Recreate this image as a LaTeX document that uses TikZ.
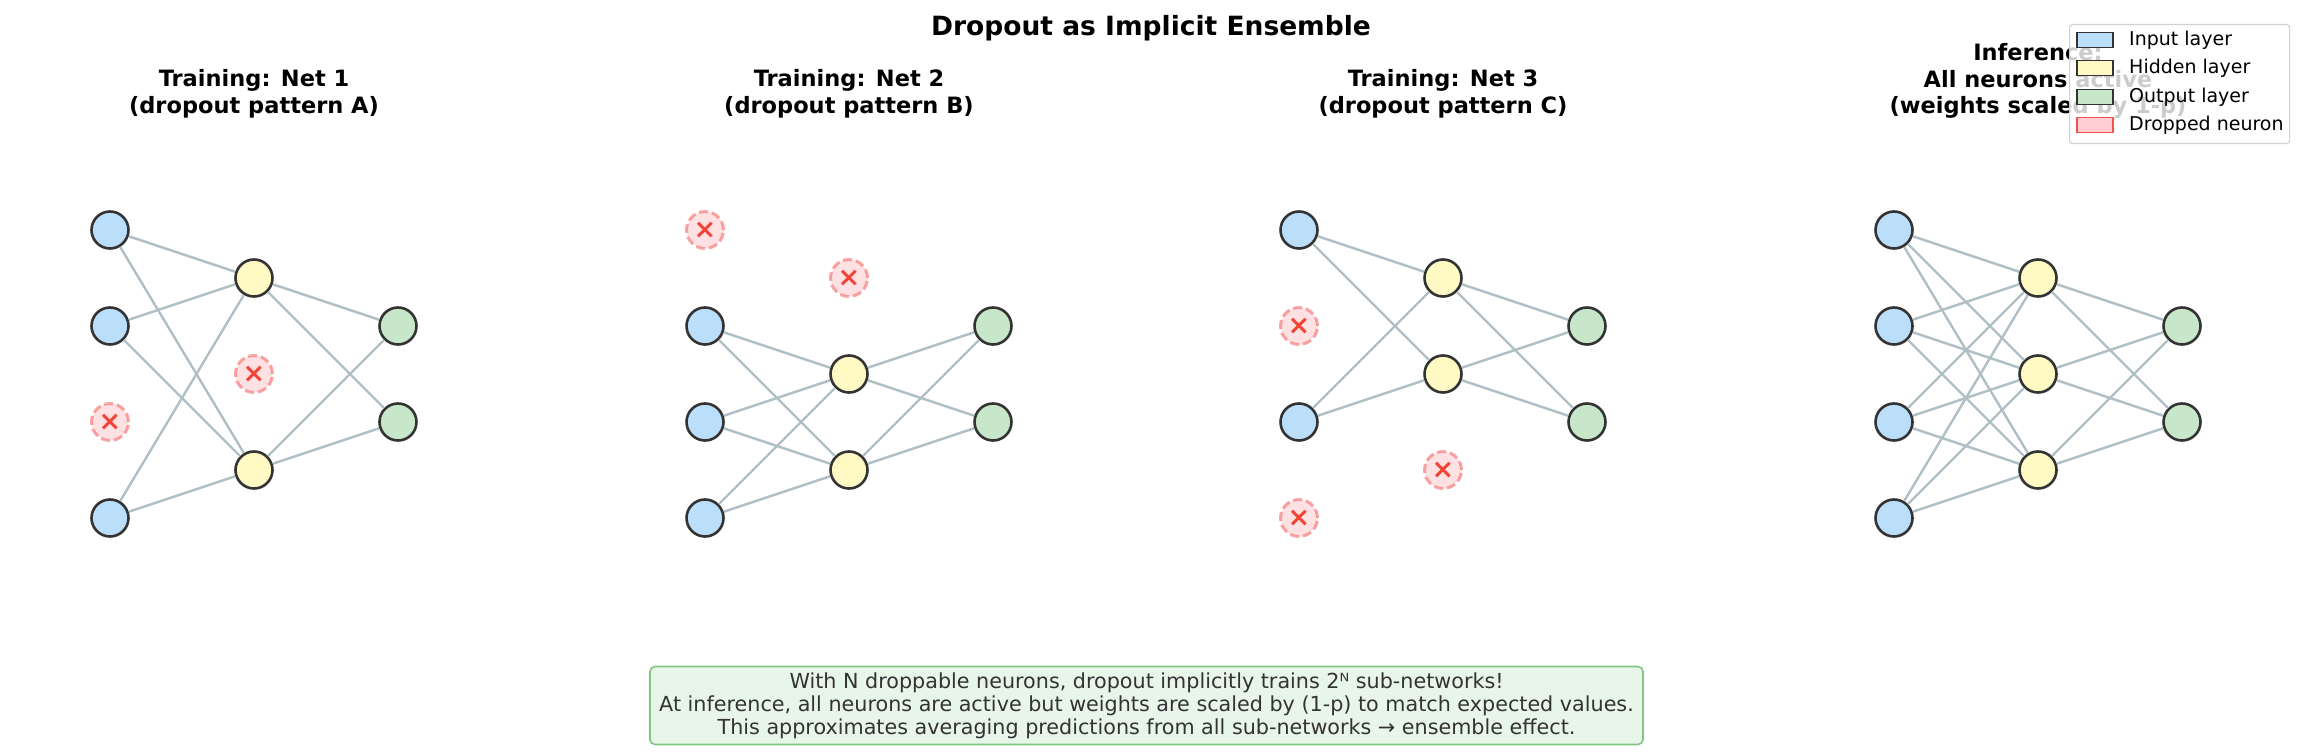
\documentclass[tikz,border=0pt]{standalone}
\usepackage{fontspec}
\setmainfont{DejaVu Sans}
\definecolor{inC}{HTML}{BBDEFB}
\definecolor{hidC}{HTML}{FFF9C4}
\definecolor{outC}{HTML}{C8E6C9}
\definecolor{dropF}{HTML}{FFCDD2}
\definecolor{dropE}{HTML}{EF5350}
\definecolor{xC}{HTML}{F44336}
\definecolor{edgeC}{HTML}{B0BEC5}
\definecolor{bordC}{HTML}{333333}
\definecolor{boxF}{HTML}{E8F5E9}
\definecolor{boxE}{HTML}{81C784}
\tikzset{
 neuron/.style={circle,draw=bordC,line width=2.6pt,minimum size=37pt,inner sep=0pt},
 inN/.style={neuron,fill=inC}, hidN/.style={neuron,fill=hidC}, outN/.style={neuron,fill=outC},
 dropN/.style={circle,draw=dropE,draw opacity=0.5,fill=dropF,fill opacity=0.6,text opacity=1,dash pattern=on 9pt off 4pt,line width=3pt,minimum size=37pt,inner sep=0pt,text=xC,font=\bfseries\fontsize{27}{27}\selectfont},
 conn/.style={draw=edgeC,line width=2.4pt},
 sub/.style={font=\bfseries\fontsize{22.5}{26.5}\selectfont,align=center},
 legpatch/.style={draw=bordC,line width=1.8pt,minimum width=36pt,minimum height=15pt,inner sep=0pt},
 legtxt/.style={anchor=west,font=\fontsize{19}{19}\selectfont,inner sep=0pt}
}
\begin{document}
\begin{tikzpicture}[x=1pt,y=-1pt]
\useasboundingbox (0,0) rectangle (2303,754);
\node[font=\bfseries\fontsize{26.5}{26.5}\selectfont] (title) at (1151,28) {Dropout as Implicit Ensemble};
% ---------- Net 1
\node[sub] (t1) at (254,94) {Training: Net 1\\(dropout pattern A)};
\node[inN] (a1) at (110,230) {}; \node[inN] (a2) at (110,326) {};
\node[dropN] (a3) at (110,422) {×}; \node[inN] (a4) at (110,518) {};
\node[hidN] (ah1) at (254,278) {}; \node[dropN] (ah2) at (254,374) {×}; \node[hidN] (ah3) at (254,470) {};
\node[outN] (ao1) at (398,326) {}; \node[outN] (ao2) at (398,422) {};
\foreach \i in {a1,a2,a4}{\foreach \h in {ah1,ah3}{\path[conn] (\i) -- (\h);}}
\foreach \h in {ah1,ah3}{\foreach \o in {ao1,ao2}{\path[conn] (\h) -- (\o);}}
% ---------- Net 2
\node[sub] (t2) at (849,94) {Training: Net 2\\(dropout pattern B)};
\node[dropN] (b1) at (705,230) {×}; \node[inN] (b2) at (705,326) {};
\node[inN] (b3) at (705,422) {}; \node[inN] (b4) at (705,518) {};
\node[dropN] (bh1) at (849,278) {×}; \node[hidN] (bh2) at (849,374) {}; \node[hidN] (bh3) at (849,470) {};
\node[outN] (bo1) at (993,326) {}; \node[outN] (bo2) at (993,422) {};
\foreach \i in {b2,b3,b4}{\foreach \h in {bh2,bh3}{\path[conn] (\i) -- (\h);}}
\foreach \h in {bh2,bh3}{\foreach \o in {bo1,bo2}{\path[conn] (\h) -- (\o);}}
% ---------- Net 3
\node[sub] (t3) at (1443,94) {Training: Net 3\\(dropout pattern C)};
\node[inN] (c1) at (1299,230) {}; \node[dropN] (c2) at (1299,326) {×};
\node[inN] (c3) at (1299,422) {}; \node[dropN] (c4) at (1299,518) {×};
\node[hidN] (ch1) at (1443,278) {}; \node[hidN] (ch2) at (1443,374) {}; \node[dropN] (ch3) at (1443,470) {×};
\node[outN] (co1) at (1587,326) {}; \node[outN] (co2) at (1587,422) {};
\foreach \i in {c1,c3}{\foreach \h in {ch1,ch2}{\path[conn] (\i) -- (\h);}}
\foreach \h in {ch1,ch2}{\foreach \o in {co1,co2}{\path[conn] (\h) -- (\o);}}
% ---------- Inference
\node[sub] (t4) at (2038,81) {Inference:\\All neurons active\\(weights scaled by 1-p)};
\node[inN] (d1) at (1894,230) {}; \node[inN] (d2) at (1894,326) {};
\node[inN] (d3) at (1894,422) {}; \node[inN] (d4) at (1894,518) {};
\node[hidN] (dh1) at (2038,278) {}; \node[hidN] (dh2) at (2038,374) {}; \node[hidN] (dh3) at (2038,470) {};
\node[outN] (do1) at (2182,326) {}; \node[outN] (do2) at (2182,422) {};
\foreach \i in {d1,d2,d3,d4}{\foreach \h in {dh1,dh2,dh3}{\path[conn] (\i) -- (\h);}}
\foreach \h in {dh1,dh2,dh3}{\foreach \o in {do1,do2}{\path[conn] (\h) -- (\o);}}
% ---------- Legend
\node[draw=black!18,line width=1.2pt,fill=white,fill opacity=0.8,rounded corners=3pt,minimum width=220pt,minimum height=119pt,anchor=north west] (leg) at (2069,24) {};
\node[legpatch,fill=inC] (p1) at (2095,40) {}; \node[legtxt] (l1) at (2129,40) {Input layer};
\node[legpatch,fill=hidC] (p2) at (2095,68) {}; \node[legtxt] (l2) at (2129,68) {Hidden layer};
\node[legpatch,fill=outC] (p3) at (2095,97) {}; \node[legtxt] (l3) at (2129,97) {Output layer};
\node[legpatch,fill=dropF,draw=dropE] (p4) at (2095,125) {}; \node[legtxt] (l4) at (2129,125) {Dropped neuron};
% ---------- Bottom box
\node[draw=boxE,line width=1.6pt,fill=boxF,rounded corners=5pt,minimum width=993pt,minimum height=78pt,text=bordC,align=center,font=\fontsize{20.7}{23}\selectfont,inner sep=0pt] (note) at (1146.5,705.5) {With N droppable neurons, dropout implicitly trains 2ᴺ sub-networks!\\At inference, all neurons are active but weights are scaled by (1-p) to match expected values.\\This approximates averaging predictions from all sub-networks → ensemble effect.};
\end{tikzpicture}
\end{document}
